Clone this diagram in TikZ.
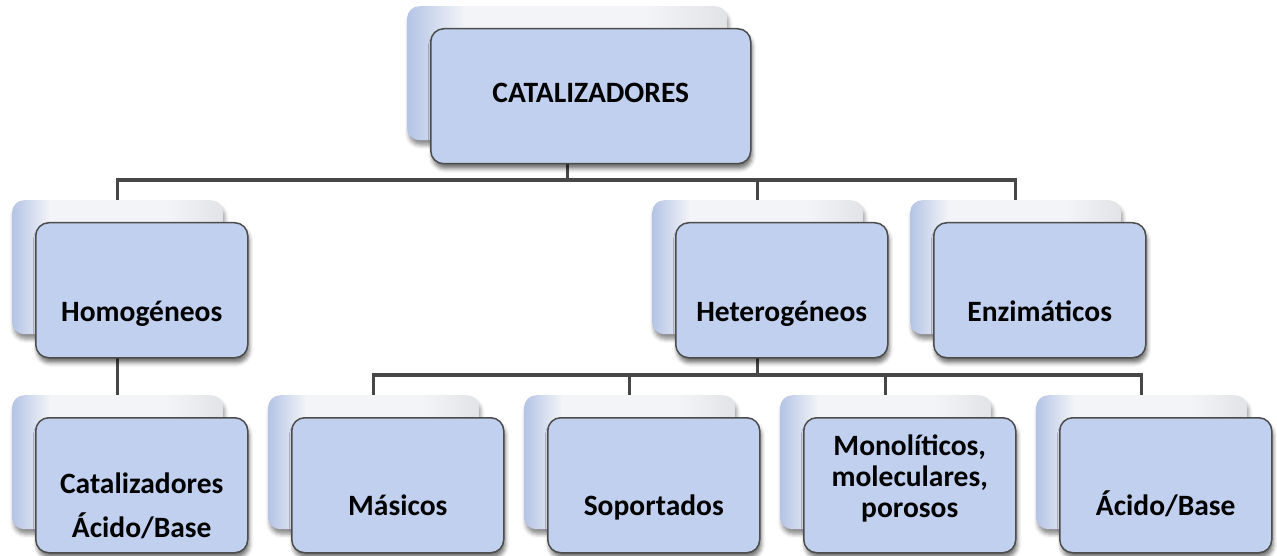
\documentclass[tikz,border=0pt]{standalone}
\usepackage{fontspec}
\setmainfont{Carlito}
\usetikzlibrary{shadows.blur,calc,backgrounds}
\definecolor{frontfill}{HTML}{C0D0EE}
\definecolor{edgecol}{HTML}{4C4C4C}
\definecolor{conncol}{HTML}{474747}
\definecolor{backblue}{HTML}{B4C4E6}
\definecolor{backlight}{HTML}{F3F4F7}
\definecolor{backgray}{HTML}{E2E3E6}
\pgfdeclarehorizontalshading{backshade}{100bp}{color(0bp)=(backblue); color(25bp)=(backblue); color(34bp)=(backlight); color(62bp)=(backlight); color(75bp)=(backgray); color(100bp)=(backgray)}
\tikzset{
  frontbox/.style={draw=edgecol, line width=1.5pt, fill=frontfill, rounded corners=13pt,
    minimum width=212pt, minimum height=135pt, inner sep=0pt, anchor=north west,
    blur shadow={shadow xshift=1.5pt, shadow yshift=-5pt, shadow blur radius=4pt, shadow opacity=55}},
  backbox/.style={shading=backshade, rounded corners=12pt,
    minimum width=211pt, minimum height=134pt, inner sep=0pt, anchor=north west,
    blur shadow={shadow xshift=1.5pt, shadow yshift=-5pt, shadow blur radius=4pt, shadow opacity=45}},
  lbl/.style={font=\fontsize{29.5}{31}\selectfont\bfseries, align=center, anchor=base, inner sep=0pt},
  connline/.style={draw=conncol, line width=3.4pt}
}
\begin{document}
\begin{tikzpicture}[x=1pt,y=-1pt]
\useasboundingbox (0,0) rectangle (1277,556);
% back boxes
\node[backbox, minimum width=320pt] (topB) at (407,6) {};
\node[backbox] (homB) at (12,200) {};
\node[backbox] (hetB) at (652,200) {};
\node[backbox] (enzB) at (910,200) {};
\node[backbox] (catB) at (12,395) {};
\node[backbox] (masB) at (268,395) {};
\node[backbox] (sopB) at (524,395) {};
\node[backbox] (monB) at (780,395) {};
\node[backbox] (abB) at (1036,395) {};
% front boxes
\node[frontbox, minimum width=320pt] (top) at (430,28) {};
\node[frontbox] (hom) at (35,222) {};
\node[frontbox] (het) at (675,222) {};
\node[frontbox] (enz) at (933,222) {};
\node[frontbox] (cat) at (35,417) {};
\node[frontbox] (mas) at (291,417) {};
\node[frontbox] (sop) at (547,417) {};
\node[frontbox] (mon) at (803,417) {};
\node[frontbox] (ab) at (1059,417) {};
% labels
\node[lbl] (topT) at ($(top.north)+(0,75)$) {CATALIZADORES};
\node[lbl] (homT) at ($(hom.north)+(0,99)$) {Homogéneos};
\node[lbl] (hetT) at ($(het.north)+(0,99)$) {Heterogéneos};
\node[lbl] (enzT) at ($(enz.north)+(0,99)$) {Enzimáticos};
\node[lbl] (catT) at ($(cat.north)+(0,120)$) {Catalizadores\\[13pt]Ácido/Base};
\node[lbl] (masT) at ($(mas.north)+(0,98)$) {Másicos};
\node[lbl] (sopT) at ($(sop.north)+(0,98)$) {Soportados};
\node[lbl] (monT) at ($(mon.north)+(0,100)$) {Monolíticos,\\moleculares,\\porosos};
\node[lbl] (abT) at ($(ab.north)+(0,98)$) {Ácido/Base};
% connectors
\coordinate (j1) at (topB.south |- 0,180);
\coordinate (j2) at (hetB.south |- 0,375);
\begin{pgfonlayer}{background}
\draw[connline] (topB.south) -- (j1);
\draw[connline] (homB.north) |- (j1) -| (enzB.north);
\draw[connline] (j1) -| (hetB.north);
\draw[connline] (homB.south) -- (catB.north);
\draw[connline] (hetB.south) -- (j2);
\draw[connline] (masB.north) |- (j2) -| (abB.north);
\draw[connline] (sopB.north) |- (j2);
\draw[connline] (monB.north) |- (j2);
\end{pgfonlayer}
\end{tikzpicture}
\end{document}
